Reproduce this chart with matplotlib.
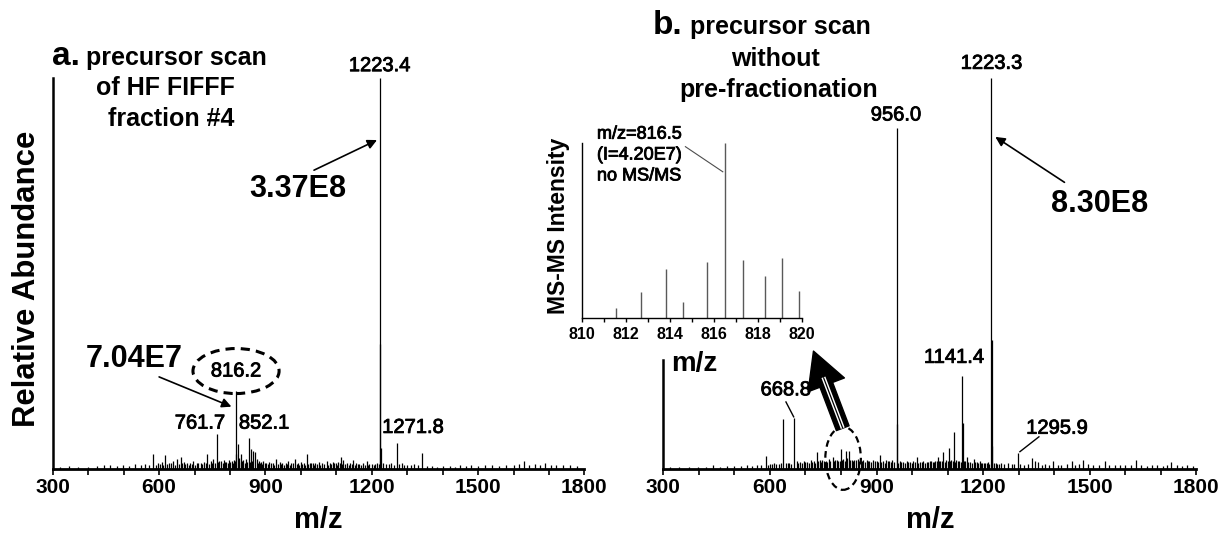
import matplotlib
matplotlib.use("Agg")
import matplotlib.pyplot as plt
import matplotlib.patheffects as pe
from matplotlib.patches import Ellipse, FancyArrowPatch
import numpy as np

plt.rcParams['font.family'] = ['Liberation Sans', 'DejaVu Sans']

# ---- data: panel a (HF FlFFF fraction #4), relative abundance in % of 1223.4
left_mz = [320, 345, 372, 398, 425, 445, 462, 480, 497, 515,
           532, 548, 560, 572, 582, 596, 608, 617, 628, 638,
           650, 661, 670, 678, 688, 696, 706, 717, 727, 736,
           745, 753, 762, 770, 776, 784, 790, 798, 805, 811,
           816.2, 817.2, 821.6, 826, 830, 838, 845, 852.5, 859, 866,
           870.5, 875, 882, 888, 894, 902, 910, 920, 930, 940,
           948, 957, 964.5, 973, 983, 992, 1000, 1008, 1016, 1025,
           1033, 1040, 1050, 1060, 1073, 1081, 1090, 1098, 1106, 1113,
           1120, 1130, 1139, 1148, 1156, 1165, 1175, 1185.6, 1193, 1200,
           1210, 1216, 1223.4, 1224.4, 1225.4, 1232, 1240, 1248, 1255, 1262,
           1270.8, 1278, 1285, 1292, 1300, 1310, 1320, 1330, 1342.6, 1355,
           1370, 1385, 1400, 1420, 1435, 1450, 1465, 1480, 1500, 1520,
           1540, 1560, 1580, 1600, 1615, 1630, 1645, 1660, 1675, 1689,
           1705, 1720, 1740, 1760, 1780]
left_int = [0.6, 0.8, 0.5, 0.7, 0.9, 1.2, 1.0, 0.8, 1.1, 0.9,
            1.3, 1.0, 1.4, 1.2, 3.8, 1.5, 1.8, 3.6, 1.6, 2.1,
            2.6, 3.2, 1.8, 1.7, 1.5, 2.1, 1.6, 1.7, 1.9, 3.8,
            2.0, 2.7, 9.0, 2.2, 2.1, 2.4, 1.9, 2.3, 2.0, 2.5,
            20.0, 4.0, 6.4, 2.8, 3.8, 2.4, 2.6, 8.1, 5.1, 4.7,
            4.3, 2.6, 2.2, 1.8, 2.1, 1.7, 1.9, 1.6, 2.6, 1.8,
            1.5, 1.7, 2.1, 1.6, 2.7, 1.5, 1.8, 1.6, 3.8, 1.7,
            1.5, 1.6, 1.9, 1.5, 2.0, 1.7, 1.8, 1.6, 1.9, 3.1,
            2.4, 1.6, 1.7, 2.4, 1.5, 1.4, 1.5, 2.0, 1.3, 1.4,
            1.3, 1.5, 100.0, 32.0, 5.4, 1.6, 1.4, 1.3, 1.5, 1.2,
            6.8, 1.3, 1.5, 1.1, 1.2, 1.0, 1.3, 1.0, 4.1, 0.9,
            0.8, 0.7, 0.9, 0.8, 0.7, 1.0, 0.8, 1.1, 0.9, 1.0,
            1.2, 0.9, 1.1, 1.0, 1.3, 2.1, 1.0, 1.3, 1.1, 1.5,
            1.0, 1.2, 1.1, 1.2, 0.8]
# low-level chemical noise between the listed peaks (panel a)
left_grass_mz = [590, 602, 612, 622, 633, 644, 655, 665, 674, 683,
                 692, 701, 711, 722, 731, 741, 749, 757, 766, 780,
                 787, 794, 801, 808, 813, 824, 834, 841, 848, 856,
                 862, 879, 885, 891, 898, 906, 915, 925, 935, 944,
                 952, 961, 968, 978, 988, 996, 1004, 1012, 1020, 1029,
                 1037, 1045, 1055, 1066, 1077, 1086, 1094, 1102, 1110, 1117,
                 1125, 1135, 1143, 1152, 1160, 1170, 1180, 1190, 1205, 1220]
left_grass_int = [1.2, 1.4, 1.1, 1.3, 1.5, 1.2, 1.4, 1.6, 1.3, 1.1,
                  1.4, 1.2, 1.5, 1.3, 1.6, 1.4, 1.7, 1.5, 1.8, 1.6,
                  1.9, 1.5, 1.8, 1.6, 2.0, 1.9, 2.1, 1.7, 1.9, 1.8,
                  2.0, 1.6, 1.5, 1.4, 1.6, 1.3, 1.5, 1.2, 1.4, 1.3,
                  1.1, 1.4, 1.2, 1.5, 1.3, 1.2, 1.4, 1.1, 1.3, 1.5,
                  1.2, 1.4, 1.1, 1.3, 1.2, 1.4, 1.5, 1.2, 1.6, 1.4,
                  1.3, 1.2, 1.4, 1.1, 1.3, 1.0, 1.2, 1.1, 1.0, 1.3]

# ---- data: panel b (no pre-fractionation), % of 1223.3
right_mz = [320, 345, 372, 398, 420, 440.7, 460, 480, 500, 518,
            535, 550, 565, 576, 589, 600, 612, 625, 637.7, 645,
            655, 668.6, 675, 685, 695, 705, 715, 723, 731.6, 740,
            748, 757, 765, 776.6, 784, 792, 800, 807, 814, 818,
            823.4, 830, 838, 848.7, 855, 863, 872, 880, 890, 900,
            909.7, 918, 928, 936, 945, 956.5, 957.5, 965, 974, 985,
            995, 1003, 1013, 1022, 1032, 1041, 1050, 1058, 1066, 1073.8,
            1080, 1088, 1095, 1104, 1110, 1118, 1125, 1133, 1141.4, 1142.4,
            1148, 1153.6, 1162, 1174, 1182, 1190, 1198, 1206, 1214, 1223.3,
            1224.3, 1225.3, 1232, 1240, 1250, 1260, 1270, 1280, 1288, 1297,
            1305, 1315, 1325, 1336.6, 1345, 1355, 1365, 1375, 1385, 1397,
            1410, 1420, 1435, 1449, 1460, 1470, 1481.8, 1495, 1510, 1525,
            1543, 1555, 1570, 1585, 1600, 1615, 1629, 1645, 1660, 1675,
            1690, 1705, 1718, 1730, 1745, 1760, 1775, 1790]
right_int = [0.5, 0.6, 0.5, 0.7, 0.6, 1.0, 0.7, 0.8, 0.9, 0.8,
             1.0, 0.9, 1.2, 1.0, 3.3, 1.3, 1.5, 1.4, 12.9, 1.6,
             1.5, 13.2, 2.0, 1.8, 2.2, 1.9, 2.3, 2.0, 4.4, 2.3,
             2.5, 2.2, 2.6, 3.1, 2.4, 2.2, 5.3, 2.6, 4.8, 2.8,
             4.7, 2.4, 2.5, 2.7, 2.2, 2.5, 2.3, 2.0, 2.4, 2.1,
             3.6, 2.1, 2.4, 2.0, 2.3, 87.3, 11.6, 2.0, 1.8, 2.2,
             1.9, 2.1, 3.1, 1.8, 2.0, 1.9, 2.1, 1.8, 2.0, 3.1,
             2.2, 4.4, 2.4, 5.5, 2.3, 9.5, 2.4, 2.0, 23.9, 11.9,
             2.2, 3.1, 1.9, 2.7, 1.8, 2.0, 1.7, 1.6, 1.8, 100.0,
             33.0, 6.0, 1.5, 1.4, 1.6, 1.4, 1.5, 1.3, 1.4, 4.2,
             1.3, 1.2, 1.4, 3.0, 2.0, 1.8, 1.2, 1.3, 1.1, 2.1,
             1.2, 1.0, 1.3, 2.1, 1.2, 1.4, 2.5, 1.3, 1.1, 1.2,
             2.1, 1.1, 1.0, 1.2, 1.0, 1.1, 2.5, 1.1, 0.9, 1.0,
             1.1, 0.9, 1.0, 1.9, 1.0, 0.9, 1.0, 0.8]
right_grass_mz = [595, 606, 618, 630, 650, 660, 680, 690, 700, 710,
                  719, 727, 735, 744, 752, 761, 770, 780, 788, 796,
                  803, 811, 826, 834, 843, 852, 859, 867, 876, 885,
                  895, 905, 914, 923, 932, 940, 950, 961, 970, 979,
                  990, 999, 1008, 1017, 1027, 1036, 1045, 1054, 1062, 1070,
                  1077, 1084, 1092, 1100, 1107, 1114, 1122, 1129, 1137, 1145,
                  1158, 1168, 1178, 1186, 1194, 1202, 1210, 1218, 1236, 1245]
right_grass_int = [1.2, 1.4, 1.3, 1.5, 1.6, 1.4, 1.7, 1.5, 1.8, 1.6,
                   1.9, 1.7, 2.0, 1.8, 2.1, 1.9, 2.2, 2.0, 2.3, 2.1,
                   2.4, 2.2, 2.3, 2.1, 2.4, 2.0, 2.2, 1.9, 2.1, 1.8,
                   2.0, 1.8, 1.9, 1.7, 2.0, 1.8, 1.9, 1.7, 1.8, 1.6,
                   1.9, 1.7, 1.8, 1.6, 1.9, 1.7, 1.8, 2.0, 1.9, 2.1,
                   2.0, 2.2, 1.9, 2.1, 2.0, 2.2, 1.9, 2.1, 1.8, 2.0,
                   1.9, 1.7, 1.8, 1.6, 1.7, 1.5, 1.6, 1.4, 1.5, 1.3]

# ---- data: inset, isotope cluster around m/z 816.5
inset_mz = [811.55, 812.7, 813.8, 814.6, 815.7, 816.5, 817.3, 818.3, 819.1, 819.85]
inset_int = [5.7, 14.7, 28, 8.6, 32, 100, 33, 23.5, 34, 15]

main_ticks = [300, 600, 900, 1200, 1500, 1800]
main_tick_labels = ['300', '600', '900', '1200', '1500', '1800']
inset_ticks = [810, 812, 814, 816, 818, 820]
inset_tick_labels = ['810', '812', '814', '816', '818', '820']

W, H = 1220, 534
fig = plt.figure(figsize=(W / 100, H / 100), dpi=100)
heavy = [pe.withStroke(linewidth=0.6, foreground='black')]


def box(x0, y0, x1, y1):
    return [x0 / W, 1 - y1 / H, (x1 - x0) / W, (y1 - y0) / H]


def ftext(x, y, s, **kw):
    return fig.text(x / W, 1 - y / H, s, **kw)


def style_main(ax):
    ax.set_xlim(300, 1800)
    ax.set_ylim(0, 100)
    for s in ('top', 'right'):
        ax.spines[s].set_visible(False)
    ax.spines['left'].set_linewidth(1.8)
    ax.spines['bottom'].set_linewidth(2.0)
    ax.set_yticks([])
    ax.set_xticks(main_ticks, main_tick_labels, fontsize=15, fontweight='bold')
    ax.set_xticks(np.arange(300, 1801, 100), minor=True)
    ax.tick_params(axis='x', which='both', direction='out', length=4, width=1.2, pad=2)
    ax.set_xlabel('m/z', fontsize=21, fontweight='bold', labelpad=7)
    ax.patch.set_alpha(0)


axa = fig.add_axes(box(52.8, 77.8, 584.4, 469.3))
axb = fig.add_axes(box(663.3, 77.8, 1196.3, 469.3))
axi = fig.add_axes(box(582, 143, 802, 317.5))

for ax in (axa, axb):
    style_main(ax)
axb.spines['left'].set_bounds(0, 28)

axa.vlines(left_grass_mz, 0, left_grass_int, color='black', lw=0.9)
axa.vlines(left_mz, 0, left_int, color='black', lw=0.9)
axb.vlines(right_grass_mz, 0, right_grass_int, color='black', lw=0.9)
axb.vlines(right_mz, 0, right_int, color='black', lw=0.9)

# ---- panel a annotations
lab = dict(ha='center', va='center', fontsize=14.5, path_effects=heavy)
axa.text(1222, 103.1, '1223.4', **lab)
axa.text(715, 11.8, '761.7', **lab)
axa.text(896, 11.8, '852.1', **lab)
axa.text(1316, 10.7, '1271.8', **lab)
axa.text(817, 25.1, '816.2', **lab)
axa.add_patch(Ellipse((817, 25.1), 243, 11.5, fill=False, ls=(0, (3, 2)), lw=2.2))
axa.text(991, 71.6, '3.37E8', ha='center', va='center', fontsize=22, fontweight='bold')
axa.annotate('', xy=(1214.8, 84.1), xytext=(1037, 76.4),
             arrowprops=dict(arrowstyle='-|>', color='black', lw=1.2, mutation_scale=14,
                             shrinkA=0, shrinkB=0))
axa.text(529, 28.2, '7.04E7', ha='center', va='center', fontsize=22, fontweight='bold')
axa.annotate('', xy=(804, 16.0), xytext=(600, 23.6),
             arrowprops=dict(arrowstyle='-|>', color='black', lw=1.2, mutation_scale=14,
                             shrinkA=0, shrinkB=0))

# ---- panel b annotations
axb.text(1223.5, 103.7, '1223.3', **lab)
axb.text(954.7, 90.5, '956.0', **lab)
axb.text(1118, 28.6, '1141.4', **lab)
axb.text(645, 20.3, '668.8', **lab)
axb.plot([645.2, 666.9], [17.2, 13.4], color='black', lw=1)
axb.text(1407.8, 10.5, '1295.9', **lab)
axb.plot([1357.1, 1303.6], [8.3, 4.5], color='black', lw=1)
axb.text(1527, 67.7, '8.30E8', ha='center', va='center', fontsize=22, fontweight='bold')
axb.annotate('', xy=(1234.4, 84.9), xytext=(1429, 73.3),
             arrowprops=dict(arrowstyle='-|>', color='black', lw=1.2, mutation_scale=14,
                             shrinkA=0, shrinkB=0))
axb.add_patch(Ellipse((806, 2.8), 100, 16.1, fill=False, ls=(0, (3, 2)), lw=1.6, clip_on=False))

# big striped arrow from the dashed ellipse up to the inset
tail = np.array([805.0, 10.5])
tip = np.array([722.6, 30.2])
big = FancyArrowPatch(tail, tip, arrowstyle='simple,head_length=2.0,head_width=2.15,tail_width=0.75',
                      mutation_scale=13, color='black', clip_on=False, shrinkA=0, shrinkB=0)
axb.add_patch(big)
neck = tail + 0.66 * (tip - tail)
axb.plot([tail[0], neck[0]], [tail[1], neck[1]], color='white', lw=3.0,
         clip_on=False, solid_capstyle='butt')
axb.plot([tail[0], neck[0]], [tail[1], neck[1]], color='black', lw=0.9,
         clip_on=False, solid_capstyle='butt')

# ---- inset
axi.vlines(inset_mz, 0, inset_int, color='0.35', lw=1.0)
axi.set_xlim(810, 820)
axi.set_ylim(0, 100)
for s in ('top', 'right'):
    axi.spines[s].set_visible(False)
for s in ('left', 'bottom'):
    axi.spines[s].set_linewidth(1.0)
axi.set_yticks([])
axi.set_xticks(inset_ticks, inset_tick_labels, fontsize=11.5, fontweight='bold')
axi.set_xticks(np.arange(810, 821, 1), minor=True)
axi.tick_params(axis='x', which='both', direction='out', length=3, width=1, pad=4)
axi.patch.set_alpha(0)
axi.text(810.68, 93.1, 'm/z=816.5\n(I=4.20E7)\nno MS/MS', ha='left', va='center',
         fontsize=13, linespacing=1.3, clip_on=False, path_effects=heavy)
axi.plot([814.7, 816.4], [97.9, 83.5], color='0.3', lw=0.8, clip_on=False)
ftext(558.5, 226, 'MS-MS Intensity', rotation=90, ha='center', va='center',
      fontsize=16.5, fontweight='bold')
ftext(694, 364, 'm/z', ha='center', va='center', fontsize=20, fontweight='bold')

# ---- axis title and panel headings
ftext(27, 278.5, 'Relative Abundance', rotation=90, ha='center', va='center',
      fontsize=22.4, fontweight='bold')
head = dict(ha='center', va='baseline', fontsize=18, fontweight='bold')
ftext(52, 65, 'a.', ha='left', va='baseline', fontsize=24, fontweight='bold')
ftext(176, 65, 'precursor scan', **head)
ftext(165, 95, 'of HF FIFFF', **head)
ftext(171, 126, 'fraction #4', **head)
ftext(653, 34, 'b.', ha='left', va='baseline', fontsize=24, fontweight='bold')
ftext(780, 34, 'precursor scan', **head)
ftext(775, 66, 'without', **head)
ftext(779, 97, 'pre-fractionation', **head)

fig.savefig('out.png', dpi=100)
